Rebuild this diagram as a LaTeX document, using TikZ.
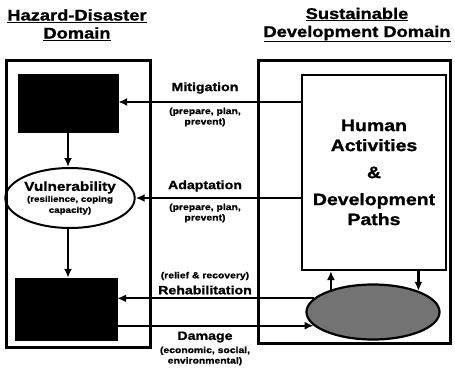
\documentclass[tikz,border=0pt]{standalone}
\usepackage{fontspec}
\setmainfont{Liberation Sans}[FakeStretch=1.18,BoldFeatures={FakeBold=1.2}]
\usetikzlibrary{arrows.meta,shapes.geometric}
\begin{document}
\begin{tikzpicture}[x=1pt,y=-1pt,
  frame/.style={draw,line width=3pt},
  blackbox/.style={fill=black,draw=black,minimum width=100pt,minimum height=58pt,inner sep=0pt},
  arr/.style={line width=2.2pt,-{Latex[length=9pt,width=8pt]}},
  lbl/.style={font=\bfseries\fontsize{12}{13}\selectfont,inner sep=0pt},
  sub/.style={font=\bfseries\fontsize{8.8}{10.5}\selectfont,align=center,inner sep=0pt},
  hdr/.style={font=\bfseries\fontsize{15.5}{18}\selectfont,align=center,inner sep=0pt}]
\useasboundingbox (0,0) rectangle (455,370);
% headers
\node[hdr] (h1) at (77,25) {\underline{Hazard-Disaster}\\\underline{Domain}};
\node[hdr] (h2) at (357,25) {\underline{Sustainable}\\\underline{Development Domain}};
% frames
\node[frame,minimum width=144pt,minimum height=287pt,inner sep=0pt] (lf) at (78,203.5) {};
\node[frame,minimum width=192pt,minimum height=283pt,inner sep=0pt] (rf) at (354,201.5) {};
% left nodes
\node[blackbox] (top) at (68,103) {};
\node[draw,line width=2pt,ellipse,minimum width=116pt,minimum height=60pt,inner sep=0pt,align=center] (vul) at (70,198)
  {{\bfseries\fontsize{13}{13}\selectfont Vulnerability}\\[-1pt]{\bfseries\fontsize{8.3}{9}\selectfont (resilience, coping}\\[-1pt]{\bfseries\fontsize{8.3}{9}\selectfont capacity)}};
\node[blackbox,minimum width=102pt,minimum height=62pt] (bot) at (66,309) {};
% right nodes
\node[draw,line width=2pt,minimum width=144pt,minimum height=195pt,inner sep=0pt,align=center,
  font=\bfseries\fontsize{16.5}{20}\selectfont] (hum) at (374,172.5)
  {Human\\Activities\\[7pt]\&\\[7pt]Development\\Paths};
\node[draw,line width=2.2pt,ellipse,fill=black!55,minimum width=133pt,minimum height=55pt,inner sep=0pt] (env) at (373,312) {};
% coordinates
\coordinate (mity) at (0,102);
% arrows
\draw[arr] (top.south -| 68,0) -- (vul.north -| 68,0);
\draw[arr] (vul.south -| 68,0) -- (bot.north -| 68,0);
\draw[arr] (hum.west |- mity) -- (top.east |- mity);
\draw[arr] (hum.west |- vul.east) -- (vul.east);
\draw[arr] (env.167) -- (bot.east |- env.167);
\draw[arr] (bot.east |- env.193) -- (env.193);
\draw[arr] (env.152) -- (hum.south -| env.152);
\draw[arr] (hum.south -| env.25) -- (env.25);
% labels
\node[lbl] (lmit) at (205,88) {Mitigation};
\node[sub] (smit) at (205,117) {(prepare, plan,\\prevent)};
\node[lbl] (lada) at (205,186) {Adaptation};
\node[sub] (sada) at (205,213) {(prepare, plan,\\prevent)};
\node[sub] (srel) at (205,276) {(relief \& recovery)};
\node[lbl] (lreh) at (205,290) {Rehabilitation};
\node[lbl] (ldam) at (205,337) {Damage};
\node[sub] (sdam) at (205,356) {(economic, social,\\environmental)};
\end{tikzpicture}
\end{document}
